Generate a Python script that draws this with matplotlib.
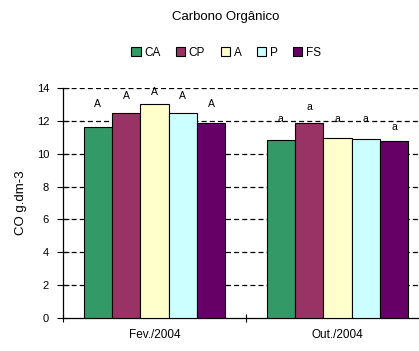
import matplotlib
matplotlib.use("Agg")
import matplotlib.pyplot as plt
import numpy as np
from matplotlib.patches import Patch

plt.rcParams['font.family'] = ['Liberation Sans', 'DejaVu Sans']

periods = ["Fev./2004", "Out./2004"]
series = ["CA", "CP", "A", "P", "FS"]
colors = ["#339966", "#993366", "#FFFFCC", "#CCFFFF", "#660066"]
values = {
    "CA": [11.6, 10.85],
    "CP": [12.45, 11.9],
    "A":  [13.05, 10.95],
    "P":  [12.45, 10.9],
    "FS": [11.9, 10.75],
}
letters = [["A", "A", "A", "A", "A"], ["a", "a", "a", "a", "a"]]
letter_heights = [[13.0, 13.5, 13.75, 13.5, 13.0], [12.1, 12.85, 12.1, 12.1, 11.6]]
yticks = [0, 2, 4, 6, 8, 10, 12, 14]

fig = plt.figure(figsize=(4.19, 3.51), dpi=100)
ax = fig.add_axes([63/419, 33/351, 366/419, 230/351])

n = len(series)
bw = 0.155
x = np.arange(len(periods))
for i, s in enumerate(series):
    pos = x + (i - (n - 1) / 2) * bw
    ax.bar(pos, values[s], width=bw, color=colors[i], edgecolor="black",
           linewidth=0.8, zorder=3)
    for j in range(len(periods)):
        ax.text(pos[j], letter_heights[j][i], letters[j][i], ha="center",
                va="center", fontsize=7.5, zorder=4)

ax.set_xlim(-0.5, 1.5)
ax.set_ylim(0, 14)
ax.set_yticks(yticks)
ax.set_yticklabels([str(t) for t in yticks], fontsize=8)
ax.set_xticks(x)
ax.set_xticklabels(periods, fontsize=8.5)
ax.tick_params(axis="x", length=0, pad=8)
ax.set_xticks([-0.5, 0.5, 1.5], minor=True)
ax.tick_params(axis="x", which="minor", length=6, direction="inout", width=0.8)
ax.tick_params(axis="y", length=8, direction="inout", width=0.8, pad=6)

for t in yticks[1:]:
    ax.axhline(t, color="black", linestyle=(0, (4, 2.5)), linewidth=0.9, zorder=1)

for side in ["top", "right"]:
    ax.spines[side].set_visible(False)
for side in ["left", "bottom"]:
    ax.spines[side].set_linewidth(0.9)

ax.set_ylabel("CO g.dm-3", fontsize=9.5, labelpad=7)

fig.text(226/419, 1 - 17/351, "Carbono Orgânico", ha="center", va="center", fontsize=9.5)
handles = [Patch(facecolor=c, edgecolor="black", linewidth=0.8) for c in colors]
fig.legend(handles, series, loc="center", bbox_to_anchor=(226/419, 1 - 53/351),
           ncol=5, frameon=False, fontsize=8.5, handlelength=0.8, handleheight=0.8,
           handletextpad=0.3, columnspacing=1.3)

fig.savefig("out.png", dpi=100)
